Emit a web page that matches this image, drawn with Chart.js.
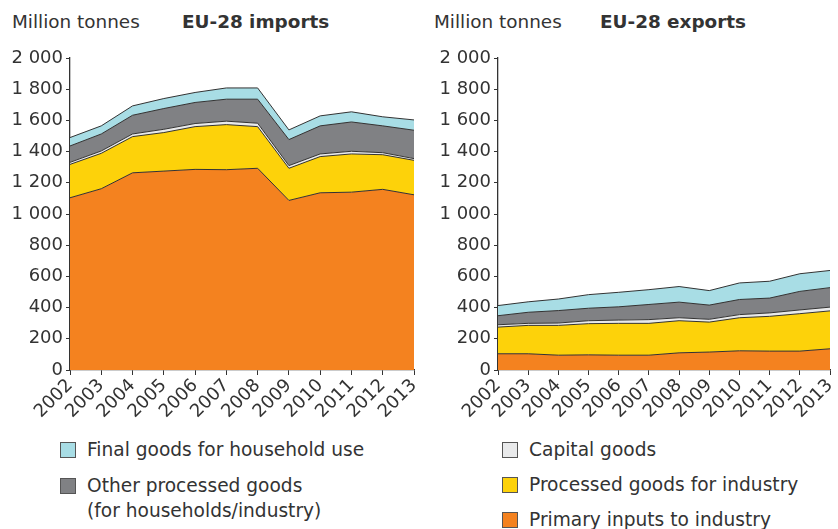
<!DOCTYPE html>
<html>
<head>
<meta charset="utf-8">
<script src="https://cdn.jsdelivr.net/npm/chart.js@4.4.1/dist/chart.umd.min.js"></script>
<style>
  body { margin: 0; background: #fff; font-family: "DejaVu Sans", Verdana, sans-serif; color: #333; }
  #wrap { position: relative; width: 838px; height: 529px; overflow: hidden; }
  .cv { position: absolute; top: 0; }
  .unit, .ttl { position: absolute; top: 10px; font-size: 18.4px; line-height: 24px; white-space: nowrap; }
  .ttl { font-weight: bold; }
  .leg { position: absolute; font-size: 18.6px; line-height: 25px; white-space: nowrap; }
  .leg i { position: absolute; left: -27px; top: 5px; width: 14px; height: 14px; border: 1px solid #555; }
</style>
</head>
<body>
<div id="wrap">
  <div class="unit" style="left:12px">Million tonnes</div>
  <div class="ttl" style="left:182px">EU-28 imports</div>
  <div class="unit" style="left:434px">Million tonnes</div>
  <div class="ttl" style="left:600px">EU-28 exports</div>
  <div class="cv" style="left:0"><canvas id="graficaImport" width="418" height="430"></canvas></div>
  <div class="cv" style="left:428px"><canvas id="graficaExport" width="406" height="430"></canvas></div>
  <div id="leyenda"></div>
</div>
<script>
// años y etiquetas del eje
const years = ["2002", "2003", "2004", "2005", "2006", "2007", "2008", "2009", "2010", "2011", "2012", "2013"];
const yTicks = ["0", "200", "400", "600", "800", "1 000", "1 200", "1 400", "1 600", "1 800", "2 000"];

// importaciones EU-28 (millones de toneladas)
const impPrimary   = [1104, 1162, 1264, 1275, 1286, 1284, 1293, 1087, 1136, 1140, 1158, 1123];
const impProcessed = [214, 227, 232, 247, 274, 289, 267, 206, 232, 245, 222, 221];
const impCapital   = [13, 15, 17, 21, 20, 22, 22, 17, 17, 17, 13, 11];
const impOther     = [105, 109, 120, 133, 135, 141, 154, 167, 180, 188, 172, 182];
const impFinal     = [54, 52, 60, 64, 64, 72, 72, 62, 64, 65, 58, 66];

// exportaciones EU-28
const expPrimary   = [104, 104, 95, 97, 95, 95, 110, 115, 123, 121, 121, 136];
const expProcessed = [171, 182, 191, 200, 204, 204, 206, 192, 212, 223, 240, 243];
const expCapital   = [15, 13, 15, 19, 21, 24, 19, 18, 20, 22, 24, 24];
const expOther     = [58, 71, 80, 80, 85, 97, 100, 91, 97, 95, 119, 125];
const expFinal     = [65, 67, 74, 87, 93, 95, 100, 93, 106, 108, 113, 110];

const series = [
    { label: "Primary inputs to industry", color: "#F4821F" },
    { label: "Processed goods for industry", color: "#FDD20A" },
    { label: "Capital goods", color: "#E9EAEB" },
    { label: "Other processed goods\n(for households/industry)", color: "#808184" },
    { label: "Final goods for household use", color: "#A8DDE5" }
];

const txt = "#333";
const fuente = { family: "DejaVu Sans", size: 18 };

function hacerGrafica(id, valores) {
    const ctx = document.getElementById(id).getContext("2d");
    return new Chart(ctx, {
        type: "line",
        data: {
            labels: years,
            datasets: valores.map((v, i) => ({
                label: series[i].label,
                data: v,
                backgroundColor: series[i].color,
                borderColor: "#333",
                borderWidth: 1,
                pointRadius: 0,
                tension: 0,
                fill: i === 0 ? "origin" : "-1"
            }))
        },
        options: {
            responsive: false,
            animation: false,
            layout: { padding: { top: 58, right: 4, left: 0, bottom: 0 } },
            plugins: { legend: { display: false }, tooltip: { enabled: false } },
            scales: {
                x: {
                    offset: false,
                    grid: { display: true, drawOnChartArea: false, tickLength: 5, color: "#333" },
                    border: { color: "#333", width: 1.3 },
                    ticks: { autoSkip: false, minRotation: 45, maxRotation: 45, padding: 0, color: txt, font: fuente },
                    afterFit: s => { s.height = 60; s.paddingLeft = 0; s.paddingRight = 0; }
                },
                y: {
                    stacked: true,
                    min: 0,
                    max: 2000,
                    grid: { display: true, drawOnChartArea: false, tickLength: 4, color: "#333" },
                    border: { color: "#333", width: 1.3 },
                    ticks: {
                        stepSize: 200,
                        padding: 3,
                        color: txt,
                        font: fuente,
                        callback: (v, i) => yTicks[i]
                    },
                    afterFit: s => { s.width = 70; }
                }
            }
        }
    });
}

hacerGrafica("graficaImport", [impPrimary, impProcessed, impCapital, impOther, impFinal]);
hacerGrafica("graficaExport", [expPrimary, expProcessed, expCapital, expOther, expFinal]);

// leyenda en HTML
const posLeyenda = [
    [529, 507], // primary
    [529, 472], // processed
    [529, 437], // capital
    [87, 473],  // other
    [87, 437]   // final
];
const leyenda = document.getElementById("leyenda");
series.forEach((s, i) => {
    const d = document.createElement("div");
    d.className = "leg";
    d.style.left = posLeyenda[i][0] + "px";
    d.style.top = posLeyenda[i][1] + "px";
    d.innerHTML = '<i style="background:' + s.color + '"></i>' + s.label.replace("\n", "<br>");
    leyenda.appendChild(d);
});
</script>
</body>
</html>
